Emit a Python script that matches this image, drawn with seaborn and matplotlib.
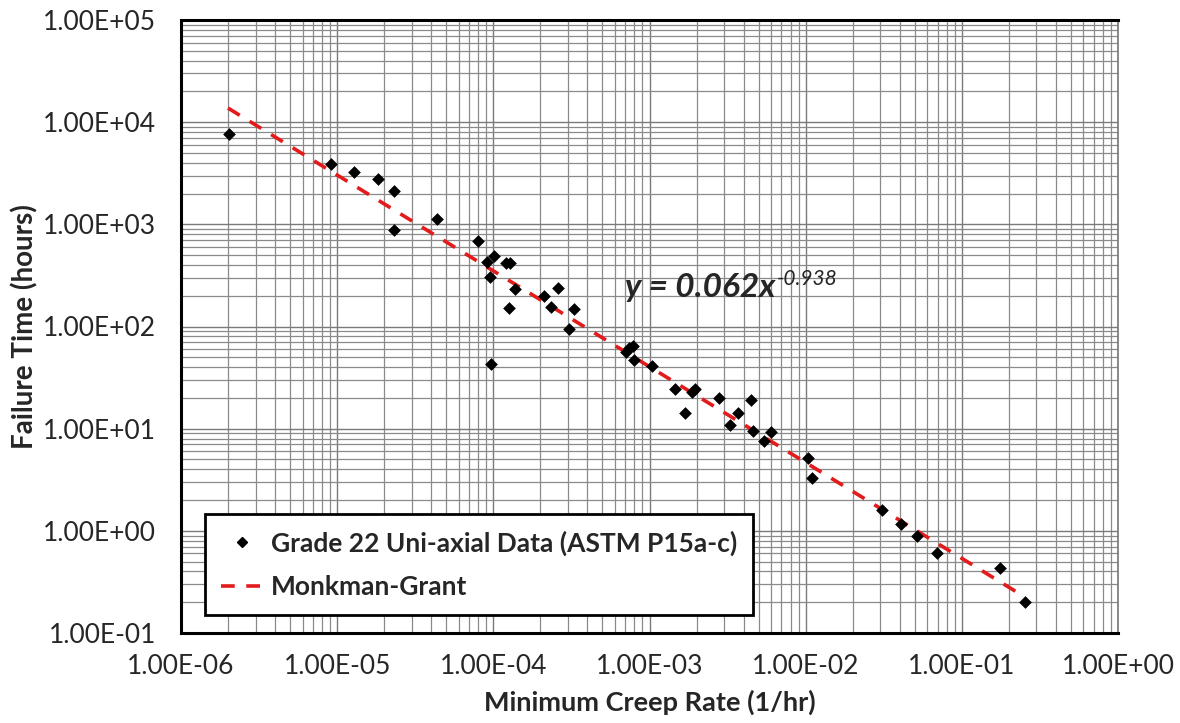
import numpy as np
import pandas as pd
import matplotlib
matplotlib.use("Agg")
import matplotlib.pyplot as plt
import seaborn as sns
from matplotlib.ticker import FixedLocator, FixedFormatter, LogLocator, NullFormatter
from matplotlib.lines import Line2D

creep_rate = [2.03e-6, 9.1e-6, 1.29e-5, 1.83e-5, 2.30e-5, 2.31e-5, 4.37e-5, 7.93e-5,
              9.06e-5, 9.5e-5, 9.66e-5, 1.01e-4, 1.21e-4, 1.27e-4, 1.26e-4, 1.37e-4,
              2.11e-4, 2.34e-4, 2.60e-4, 3.04e-4, 3.28e-4, 7.06e-4, 7.4e-4, 7.83e-4,
              7.98e-4, 1.04e-3, 1.46e-3, 1.69e-3, 1.86e-3, 1.95e-3, 2.77e-3, 3.29e-3,
              3.68e-3, 4.46e-3, 4.57e-3, 5.40e-3, 5.96e-3, 1.03e-2, 1.10e-2, 3.09e-2,
              4.07e-2, 5.20e-2, 6.92e-2, 0.175, 0.253]
failure_time = [7600, 3900, 3240, 2790, 2110, 890, 1120, 680,
                425, 306, 43, 485, 414, 416, 152, 234,
                200, 155, 239, 95, 147, 56, 61, 64,
                47, 41, 24.4, 14.1, 23, 24.2, 19.9, 10.9,
                14.1, 18.9, 9.55, 7.62, 9.27, 5.12, 3.26, 1.60,
                1.17, 0.883, 0.602, 0.43, 0.20]

fit_coef = 0.062
fit_exp = -0.938
fit_x_range = [2.0e-6, 0.253]

x_ticks = [1e-6, 1e-5, 1e-4, 1e-3, 1e-2, 1e-1, 1e0]
x_tick_labels = ["1.00E-06", "1.00E-05", "1.00E-04", "1.00E-03", "1.00E-02", "1.00E-01", "1.00E+00"]
y_ticks = [1e-1, 1e0, 1e1, 1e2, 1e3, 1e4, 1e5]
y_tick_labels = ["1.00E-01", "1.00E+00", "1.00E+01", "1.00E+02", "1.00E+03", "1.00E+04", "1.00E+05"]

series_label = "Grade 22 Uni-axial Data (ASTM P15a-c)"
fit_label = "Monkman-Grant"
eq_main = "y = 0.062x"
eq_exp = "-0.938"

sns.set_style("white")
plt.rcParams['font.family'] = ['Lato', 'DejaVu Sans']

fig = plt.figure(figsize=(11.8, 7.23), dpi=100)
ax = fig.add_axes([181/1180, 1-633/723, (1118-181)/1180, (633-20)/723])

df = pd.DataFrame({"x": creep_rate, "y": failure_time})
fx = np.logspace(np.log10(fit_x_range[0]), np.log10(fit_x_range[1]), 200)
fit_df = pd.DataFrame({"x": fx, "y": fit_coef * fx ** fit_exp})

red = "#e31b1b"
dash = [3.8, 3.2]

ax.set_xscale("log")
ax.set_yscale("log")
sns.lineplot(data=fit_df, x="x", y="y", ax=ax, color=red, lw=2.6,
             zorder=3, legend=False)
ax.lines[-1].set_dashes(dash)
sns.scatterplot(data=df, x="x", y="y", ax=ax, marker="D", s=42, color="black",
                edgecolor="black", linewidth=0, zorder=4, legend=False)

ax.set_xlim(1e-6, 1e0)
ax.set_ylim(1e-1, 1e5)

ax.xaxis.set_major_locator(FixedLocator(x_ticks))
ax.xaxis.set_major_formatter(FixedFormatter(x_tick_labels))
ax.yaxis.set_major_locator(FixedLocator(y_ticks))
ax.yaxis.set_major_formatter(FixedFormatter(y_tick_labels))
ax.xaxis.set_minor_locator(LogLocator(base=10, subs=np.arange(2, 10), numticks=20))
ax.yaxis.set_minor_locator(LogLocator(base=10, subs=np.arange(2, 10), numticks=20))
ax.xaxis.set_minor_formatter(NullFormatter())
ax.yaxis.set_minor_formatter(NullFormatter())

ax.grid(True, which="major", color="#7a7a7a", lw=1.0)
ax.grid(True, which="minor", color="#8a8a8a", lw=0.9)
ax.set_axisbelow(True)
ax.tick_params(which="both", length=0)
ax.tick_params(axis="x", labelsize=19, pad=15)
ax.tick_params(axis="y", labelsize=19, pad=18)

for s in ["left", "bottom", "top"]:
    ax.spines[s].set_color("black")
    ax.spines[s].set_linewidth(2.2)
ax.spines["right"].set_color("#777777")
ax.spines["right"].set_linewidth(1.2)

ax.set_xlabel("Minimum Creep Rate (1/hr)", fontsize=19.5, fontweight="bold", labelpad=8)
ax.set_ylabel("Failure Time (hours)", fontsize=20, fontweight="bold", labelpad=3)

t_main = ax.text(6.97e-4, 194, eq_main, fontsize=24, fontweight="bold", style="italic",
                 ha="left", va="baseline", zorder=5)
ax.annotate(eq_exp, xy=(1, 0), xycoords=t_main, xytext=(1, 17),
            textcoords="offset pixels", fontsize=15, style="italic",
            ha="left", va="baseline", zorder=5)

handles = [Line2D([], [], marker="D", color="black", ls="none", markersize=5),
           Line2D([], [], color=red, lw=2.6, dashes=dash)]
leg = ax.legend(handles, [series_label, fit_label], loc="lower left",
                bbox_to_anchor=(0.026, 0.029), prop={"size": 19, "weight": "bold"},
                frameon=True, fancybox=False, edgecolor="black", framealpha=1,
                handlelength=1.6, handletextpad=0.3, labelspacing=0.75,
                borderpad=0.6, borderaxespad=0)
leg.get_frame().set_linewidth(2)

fig.savefig("out.png", dpi=100)
